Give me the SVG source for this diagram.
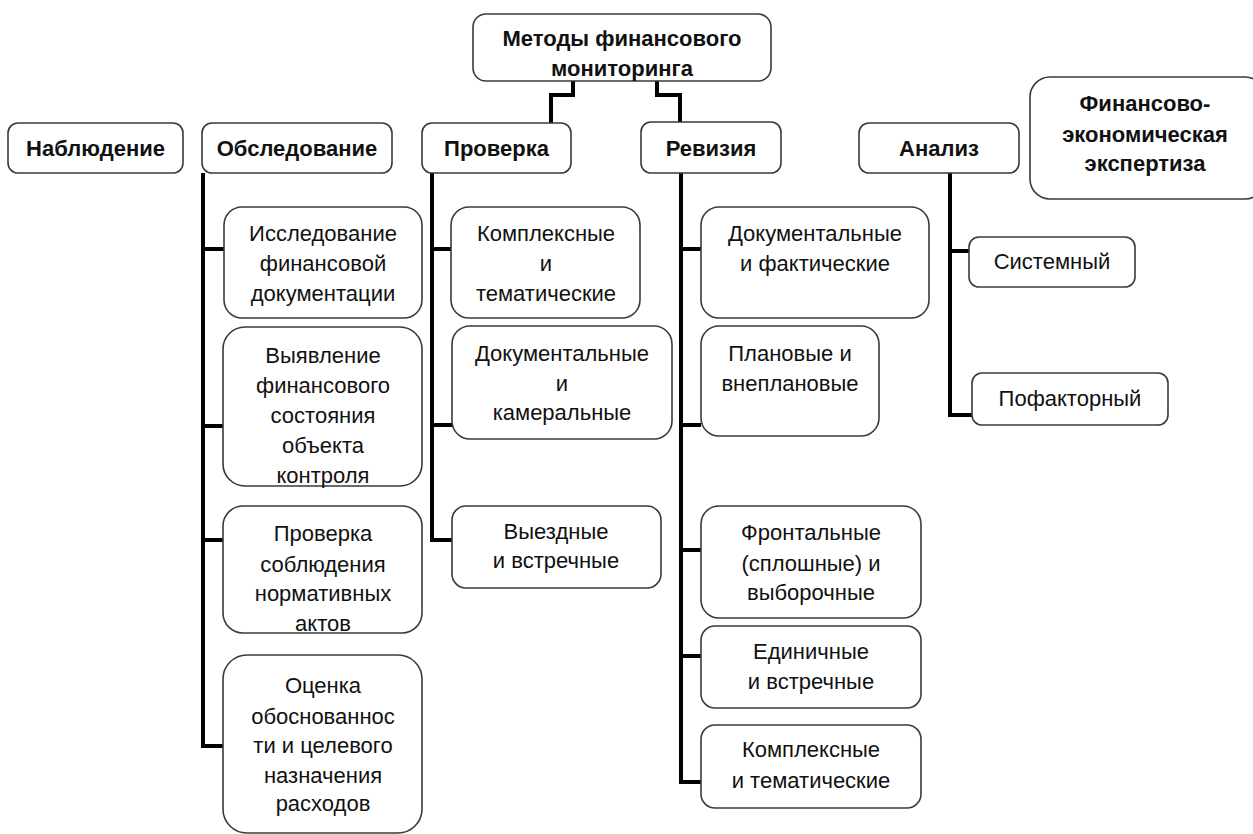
<svg xmlns="http://www.w3.org/2000/svg" width="1253" height="834" viewBox="0 0 1253 834">
<style>
.box{fill:#fff;stroke:#3a3a3a;stroke-width:1.6}
.t{font-family:"Liberation Sans",Arial,sans-serif;font-size:22px;fill:#111;text-anchor:middle;dominant-baseline:central}
.b{font-weight:bold;font-size:22px}
.c{fill:none;stroke:#000;stroke-width:4;stroke-linejoin:miter}
</style>
<rect width="1253" height="834" fill="#fff"/>
<g id="connectors">
<path class="c" d="M573,81 V95 H551 V124"/>
<path class="c" d="M657,81 V95 H680 V123"/>
<path class="c" d="M203,173 V746 H223 M203,249 H224 M203,426 H223 M203,540 H223"/>
<path class="c" d="M432,173 V540 H452 M432,249 H451 M432,425 H452"/>
<path class="c" d="M681,173 V782 H701 M681,249 H701 M681,425 H701 M681,550 H701 M681,656 H701"/>
<path class="c" d="M950,173 V415 H972 M950,251 H969"/>
</g>
<g id="n-root"><rect class="box" x="473" y="14" width="298" height="67" rx="13"/>
<text class="t b" x="622" y="38">Методы финансового</text><text class="t b" x="622" y="68">мониторинга</text></g>
<g id="n-nabl"><rect class="box" x="8" y="123" width="175" height="50" rx="10"/><text class="t b" x="95.5" y="148">Наблюдение</text></g>
<g id="n-obsl"><rect class="box" x="202" y="123" width="190" height="50" rx="10"/><text class="t b" x="297" y="148">Обследование</text></g>
<g id="n-prov"><rect class="box" x="422" y="123" width="149" height="50" rx="10"/><text class="t b" x="496.5" y="148">Проверка</text></g>
<g id="n-rev"><rect class="box" x="641" y="122" width="140" height="51" rx="10"/><text class="t b" x="711" y="148">Ревизия</text></g>
<g id="n-anal"><rect class="box" x="859" y="123" width="160" height="50" rx="10"/><text class="t b" x="939" y="148">Анализ</text></g>
<g id="n-fin"><rect class="box" x="1030" y="77" width="235" height="122" rx="20"/>
<text class="t b" x="1145" y="103">Финансово-</text><text class="t b" x="1145" y="134">экономическая</text><text class="t b" x="1145" y="163">экспертиза</text></g>

<g id="n-o1"><rect class="box" x="224" y="207" width="198" height="111" rx="18"/>
<text class="t" x="323" y="233">Исследование</text><text class="t" x="323" y="263">финансовой</text><text class="t" x="323" y="293">документации</text></g>
<g id="n-o2"><rect class="box" x="223" y="327" width="199" height="159" rx="22"/>
<text class="t" x="323" y="355">Выявление</text><text class="t" x="323" y="385">финансового</text><text class="t" x="323" y="415">состояния</text><text class="t" x="323" y="445">объекта</text><text class="t" x="323" y="475">контроля</text></g>
<g id="n-o3"><rect class="box" x="223" y="506" width="199" height="127" rx="20"/>
<text class="t" x="323" y="533">Проверка</text><text class="t" x="323" y="564">соблюдения</text><text class="t" x="323" y="593">нормативных</text><text class="t" x="323" y="623">актов</text></g>
<g id="n-o4"><rect class="box" x="223" y="655" width="199" height="178" rx="24"/>
<text class="t" x="323" y="685">Оценка</text><text class="t" x="323" y="716">обоснованнос</text><text class="t" x="323" y="745">ти и целевого</text><text class="t" x="323" y="775">назначения</text><text class="t" x="323" y="803">расходов</text></g>

<g id="n-p1"><rect class="box" x="451" y="207" width="189" height="111" rx="18"/>
<text class="t" x="546" y="233">Комплексные</text><text class="t" x="546" y="263">и</text><text class="t" x="546" y="293">тематические</text></g>
<g id="n-p2"><rect class="box" x="452" y="326" width="220" height="113" rx="18"/>
<text class="t" x="562" y="353">Документальные</text><text class="t" x="562" y="383">и</text><text class="t" x="562" y="412">камеральные</text></g>
<g id="n-p3"><rect class="box" x="452" y="506" width="209" height="82" rx="14"/>
<text class="t" x="556" y="531">Выездные</text><text class="t" x="556" y="560">и встречные</text></g>

<g id="n-r1"><rect class="box" x="701" y="207" width="228" height="111" rx="18"/>
<text class="t" x="815" y="233">Документальные</text><text class="t" x="815" y="263">и фактические</text></g>
<g id="n-r2"><rect class="box" x="701" y="326" width="178" height="110" rx="18"/>
<text class="t" x="790" y="353">Плановые и</text><text class="t" x="790" y="383">внеплановые</text></g>
<g id="n-r3"><rect class="box" x="701" y="506" width="220" height="112" rx="18"/>
<text class="t" x="811" y="532">Фронтальные</text><text class="t" x="811" y="563">(сплошные) и</text><text class="t" x="811" y="592">выборочные</text></g>
<g id="n-r4"><rect class="box" x="701" y="626" width="220" height="82" rx="14"/>
<text class="t" x="811" y="651">Единичные</text><text class="t" x="811" y="681">и встречные</text></g>
<g id="n-r5"><rect class="box" x="701" y="725" width="220" height="83" rx="14"/>
<text class="t" x="811" y="749">Комплексные</text><text class="t" x="811" y="780">и тематические</text></g>

<g id="n-a1"><rect class="box" x="969" y="237" width="166" height="50" rx="10"/><text class="t" x="1052" y="261">Системный</text></g>
<g id="n-a2"><rect class="box" x="972" y="373" width="196" height="52" rx="10"/><text class="t" x="1070" y="398">Пофакторный</text></g>
</svg>
